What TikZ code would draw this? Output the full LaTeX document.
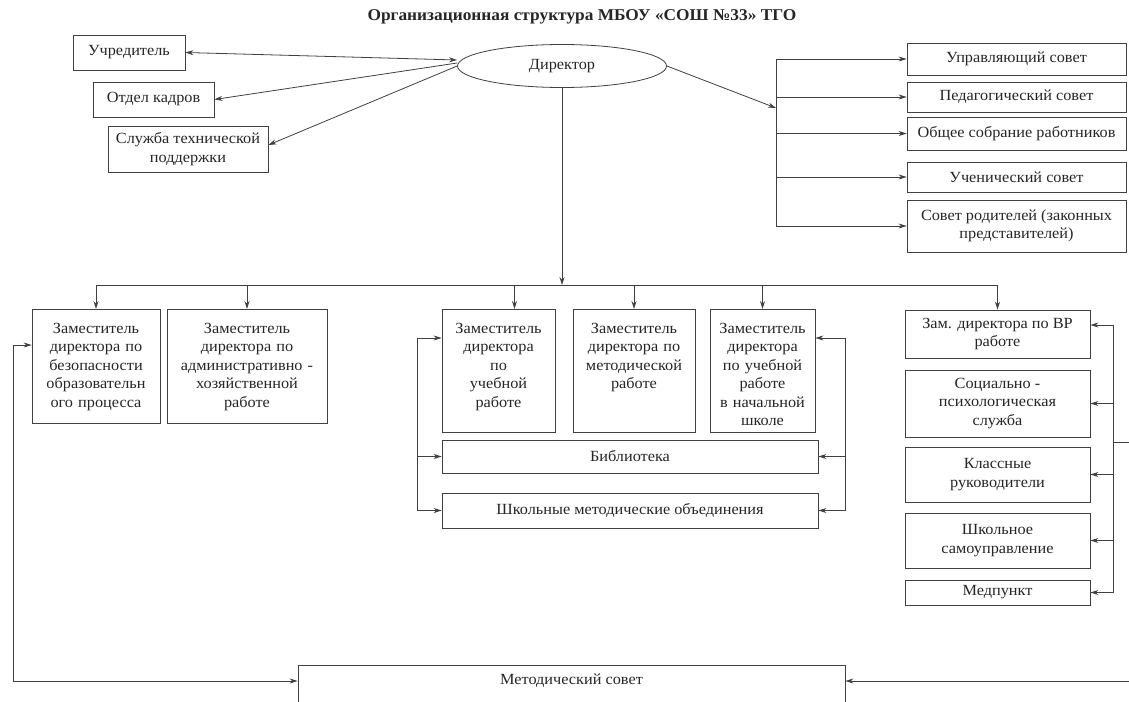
\documentclass[tikz,border=0pt]{standalone}
\usepackage{fontspec}
\setmainfont[FakeStretch=1.05]{Liberation Serif}
\usetikzlibrary{shapes.geometric,arrows.meta}
\tikzset{
  box/.style={draw=black!75, line width=0.8pt, text=black!85, align=center, inner sep=2pt,
    font=\fontsize{15.5}{18.5}\selectfont},
  tall/.style={box, anchor=north, text height=22pt},
  ln/.style={draw=black!75, line width=0.8pt},
  arr/.style={ln, -{Stealth[length=8pt,width=5pt]}},
  biarr/.style={ln, {Stealth[length=8pt,width=5pt]}-{Stealth[length=8pt,width=5pt]}}
}
\begin{document}
\begin{tikzpicture}[x=1pt,y=-1pt]
\useasboundingbox (0,0) rectangle (1129,701);
\clip (0,0) rectangle (1129,701);
\fill[white] (0,0) rectangle (1129,701);
\node[font=\bfseries\fontsize{16.5}{19}\selectfont, text=black!85] (title) at (582,17) {Организационная структура МБОУ «СОШ №33» ТГО};
%top
\node[box, ellipse, minimum width=209pt, minimum height=43pt] (dir) at (562,66) {Директор};
\node[box, minimum width=112pt, minimum height=35pt] (uchr) at (129,52.5) {Учредитель};
\node[box, minimum width=121pt, minimum height=35pt] (kadry) at (153.5,99.5) {Отдел кадров};
\node[box, minimum width=160pt, minimum height=46pt] (sluzhba) at (188,149) {Служба технической\\поддержки};
%councils
\node[box, minimum width=219pt, minimum height=32pt] (upr) at (1016.5,59) {Управляющий совет};
\node[box, minimum width=219pt, minimum height=30pt] (ped) at (1016.5,97) {Педагогический совет};
\node[box, minimum width=219pt, minimum height=33pt] (obsh) at (1016.5,133.5) {Общее собрание работников};
\node[box, minimum width=219pt, minimum height=30pt] (uchen) at (1016.5,177) {Ученический совет};
\node[box, minimum width=219pt, minimum height=52pt] (rod) at (1016.5,226) {Совет родителей (законных\\представителей)};
%deputies
\node[tall, minimum width=128pt, text width=122pt, text depth=88pt] (zbez) at (96,309) {Заместитель\\директора по\\безопасности\\образовательн\\ого процесса};
\node[tall, minimum width=160pt, text width=154pt, text depth=88pt] (zahch) at (247,309) {Заместитель\\директора по\\административно -\\хозяйственной\\работе};
\node[tall, minimum width=113pt, text width=107pt, text depth=97pt] (zuch) at (498.5,309) {Заместитель\\директора\\по\\учебной\\работе};
\node[tall, minimum width=122pt, text width=116pt, text depth=97pt] (zmet) at (634,309) {Заместитель\\директора по\\методической\\работе};
\node[tall, minimum width=105pt, text width=99pt, text depth=97pt] (znach) at (762.5,309) {Заместитель\\директора\\по учебной\\работе\\в начальной\\школе};
\node[box, minimum width=376pt, minimum height=33pt] (bibl) at (630,456.5) {Библиотека};
\node[box, minimum width=376pt, minimum height=35pt] (shmo) at (630,510.5) {Школьные методические объединения};
%right column
\node[box, minimum width=185pt, minimum height=48pt] (zvr) at (997.5,334) {Зам. директора по ВР\\работе};
\node[box, minimum width=185pt, minimum height=67pt] (soc) at (997.5,403.5) {Социально -\\психологическая\\служба};
\node[box, minimum width=185pt, minimum height=55pt] (klass) at (997.5,474.5) {Классные\\руководители};
\node[box, minimum width=185pt, minimum height=55pt] (shsam) at (997.5,540.5) {Школьное\\самоуправление};
\node[box, minimum width=185pt, minimum height=25pt] (med) at (997.5,592.5) {Медпункт};
\node[box, minimum width=547pt, minimum height=70pt] (metod) at (571.5,700) {};
\node[font=\fontsize{15.5}{18.5}\selectfont, text=black!85] (metodtxt) at (metod.center |- 0,681) {Методический совет};
%links from director
\draw[biarr] (uchr.east) -- ([yshift=6pt]dir.west);
\draw[arr] ([yshift=3pt]dir.west) -- (kadry.east);
\draw[arr] (dir.west) -- ([yshift=4pt]sluzhba.east);
\coordinate (cv) at (776,108);
\draw[arr] (dir.east) -- (cv);
\draw[ln] (cv |- upr.west) -- (cv |- rod.west);
\foreach \n in {upr,ped,obsh,uchen,rod}{
    \draw[arr] (cv |- \n.west) -- (\n.west);
};
\coordinate (bus) at (562,285);
\draw[arr] (dir.south) -- (bus);
\draw[ln] (zbez.north |- bus) -- (zvr.north |- bus);
\foreach \n in {zbez,zahch,zmet,znach,zvr}{
    \draw[arr] (\n.north |- bus) -- (\n.north);
};
\draw[arr] ([xshift=16pt]zuch.north |- bus) -- ([xshift=16pt]zuch.north);
%library and methodical unions
\coordinate (ml) at (417,338);
\coordinate (mr) at (845,338);
\draw[ln] (ml) -- (ml |- shmo.west);
\draw[ln] (mr) -- (mr |- shmo.east);
\draw[arr] (ml) -- (ml -| zuch.west);
\draw[arr] (mr) -- (mr -| znach.east);
\foreach \n in {bibl,shmo}{
    \draw[arr] (ml |- \n.west) -- (\n.west);
    \draw[arr] (mr |- \n.east) -- (\n.east);
};
%right column
\coordinate (vr) at (1113,325);
\draw[ln] (vr) -- (vr |- med.east);
\draw[arr] (vr) -- (vr -| zvr.east);
\foreach \n in {soc,klass,shsam,med}{
    \draw[arr] (vr |- \n.east) -- (\n.east);
};
%methodical council
\coordinate (lb) at (13,345);
\draw[biarr] (zbez.west |- lb) -- (lb) -- (lb |- metodtxt) -- (metod.west |- metodtxt);
\coordinate (rb) at (1140,442);
\draw[arr] (vr |- rb) -- (rb) -- (rb |- metodtxt) -- (metod.east |- metodtxt);
\end{tikzpicture}
\end{document}
